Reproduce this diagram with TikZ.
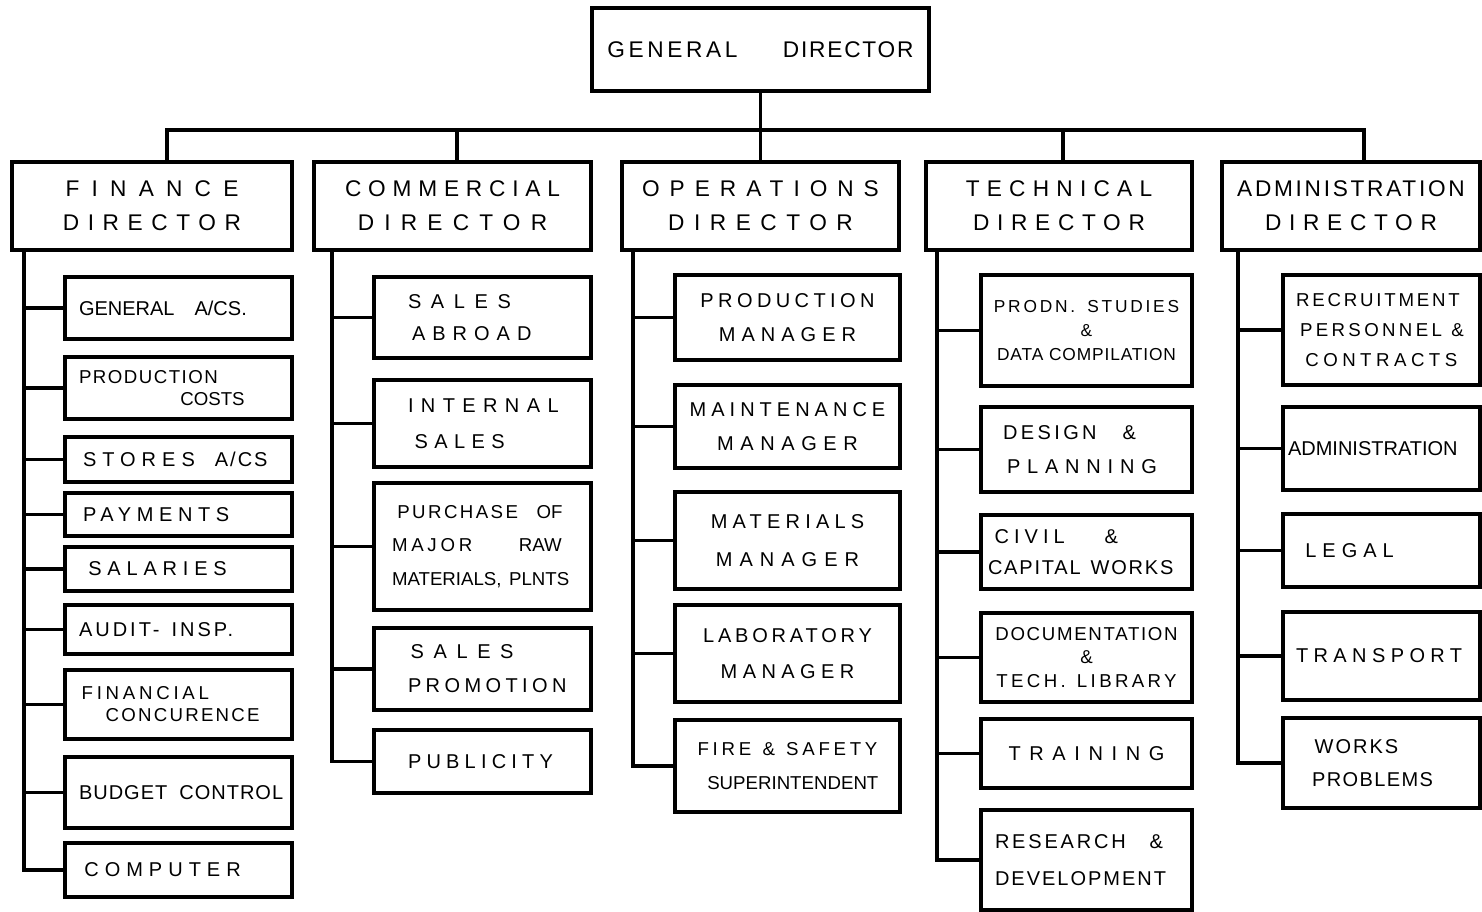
\documentclass[tikz,border=0pt]{standalone}
\usepackage{fontspec}
\newfontfamily\hand{Liberation Sans}
\newcommand{\ls}[2]{{\addfontfeature{LetterSpace=#1}#2}}

\tikzset{every picture/.style={line width=2.4pt}}
\tikzset{
  dirbox/.style={draw, rectangle, inner sep=0pt, align=center, minimum height=66pt, font=\hand\fontsize{17}{25.5}\selectfont},
  subbox/.style={draw, rectangle, inner sep=0pt, align=left, font=\hand\fontsize{15}{25.5}\selectfont},
  fincol/.style={subbox, minimum width=170.25pt, text width=149.25pt},
  comcol/.style={subbox, minimum width=162.75pt, text width=111.75pt},
  opscol/.style={subbox, minimum width=168.75pt, text width=153.75pt, align=center},
  teccol/.style={subbox, minimum width=158.25pt, text width=137.25pt},
  admcol/.style={subbox, minimum width=147.75pt, text width=128.25pt},
}

\begin{document}
\begin{tikzpicture}[x=0.75pt,y=0.75pt,yscale=-1,xscale=1]
	\useasboundingbox (0,0) rectangle (1482,912);
	
	% General director
	\node [dirbox, minimum width=252.75pt, minimum height=62.25pt] (gd) at (760.5,49.5) {\ls{16}{GENERAL}\hspace{2em}\ls{8}{DIRECTOR}};
	
	% Directors
	\node [dirbox, minimum width=210pt] (fin) at (152,206) {\ls{54}{FINANCE}\\\ls{38}{DIRECTOR}};
	\node [dirbox, minimum width=207.75pt] (com) at (452.5,206) {\ls{30}{COMMERCIAL}\\\ls{45}{DIRECTOR}};
	\node [dirbox, minimum width=207.75pt] (ops) at (760.5,206) {\ls{44}{OPERATIONS}\\\ls{42}{DIRECTOR}};
	\node [dirbox, minimum width=199.5pt] (tec) at (1059,206) {\ls{32}{TECHNICAL}\\\ls{34}{DIRECTOR}};
	\node [dirbox, minimum width=193.5pt] (adm) at (1351,206) {\ls{12}{ADMINISTRATION}\\\ls{34}{DIRECTOR}};
	
	% Finance column
	\node [fincol, minimum height=46.5pt] (fin1) at (178.5,308) {GENERAL\quad A/CS.};
	\node [fincol, minimum height=46.5pt, font=\hand\fontsize{14}{16.5}\selectfont] (fin2) at (178.5,388) {\ls{8}{PRODUCTION}\\\hspace*{76pt}COSTS};
	\node [fincol, minimum height=33.75pt] (fin3) at (178.5,459.5) {\hspace*{3pt}\ls{30}{STORES}\quad\ls{10}{A/CS}};
	\node [fincol, minimum height=32.25pt] (fin4) at (178.5,514.5) {\hspace*{3pt}\ls{28}{PAYMENTS}};
	\node [fincol, minimum height=33pt] (fin5) at (178.5,569) {\hspace*{7pt}\ls{29}{SALARIES}};
	\node [fincol, minimum height=36.75pt] (fin6) at (178.5,629.5) {\ls{15}{AUDIT-}\hspace{0.6em}\ls{15}{INSP.}};
	\node [fincol, minimum height=51.75pt, font=\hand\fontsize{14}{16.5}\selectfont] (fin7) at (178.5,704.5) {\hspace*{2pt}\ls{20}{FINANCIAL}\\\hspace*{20pt}\ls{12}{CONCURENCE}};
	\node [fincol, minimum height=53.25pt] (fin8) at (178.5,792.5) {\mbox{\ls{5}{BUDGET}\hspace{0.6em}\ls{5}{CONTROL}}};
	\node [fincol, minimum height=40.5pt] (fin9) at (178.5,870) {\hspace*{4pt}\ls{30}{COMPUTER}};
	
	% Commercial column
	\node [comcol, minimum height=60.75pt, font=\hand\fontsize{15}{24}\selectfont] (com1) at (482.5,317.5) {\ls{48}{SALES}\\\hspace*{3pt}\ls{35}{ABROAD}};
	\node [comcol, minimum height=65.25pt, font=\hand\fontsize{15}{27}\selectfont] (com2) at (482.5,423.5) {\ls{37}{INTERNAL}\\\hspace*{5pt}\ls{32}{SALES}};
	\node [comcol, minimum height=95.25pt, text width=135.75pt, font=\hand\fontsize{14}{25}\selectfont] (com3) at (482.5,546.5) {\hspace*{4pt}\ls{13}{PURCHASE}\quad OF\\\ls{20}{MAJOR}\hspace{2.5em}RAW\\\mbox{MATERIALS,\hspace{0.4em}PLNTS}};
	\node [comcol, minimum height=61.5pt] (com4) at (482.5,669) {\hspace*{2pt}\ls{48}{SALES}\\\ls{22}{PROMOTION}};
	\node [comcol, minimum height=47.25pt] (com5) at (482.5,761.5) {\ls{26}{PUBLICITY}};
	
	% Operations column
	\node [opscol, minimum height=63.75pt] (ops1) at (787.5,317.5) {\ls{22}{PRODUCTION}\\\ls{30}{MANAGER}};
	\node [opscol, minimum height=62.25pt] (ops2) at (787.5,426.5) {\ls{25}{MAINTENANCE}\\\ls{33}{MANAGER}};
	\node [opscol, minimum height=72.75pt, font=\hand\fontsize{15}{28.5}\selectfont] (ops3) at (787.5,540.5) {\ls{26}{MATERIALS}\\\ls{35}{MANAGER}};
	\node [opscol, minimum height=72.75pt, font=\hand\fontsize{15}{27.5}\selectfont] (ops4) at (787.5,653.5) {\ls{19}{LABORATORY}\\\ls{27}{MANAGER}};
	\node [opscol, minimum height=69pt, font=\hand\fontsize{14}{25}\selectfont] (ops5) at (787.5,766) {\mbox{\ls{20}{FIRE}\hspace{0.6em}\&\hspace{0.6em}\ls{20}{SAFETY}}\\\hspace*{8pt}SUPERINTENDENT};
	
	% Technical column
	\node [teccol, minimum height=83.25pt, text width=150pt, align=center, font=\hand\fontsize{13}{18}\selectfont] (tec1) at (1086.5,330.5) {\mbox{\ls{16}{PRODN.}\hspace{0.7em}\ls{16}{STUDIES}}\\\&\\\ls{5}{DATA COMPILATION}};
	\node [teccol, minimum height=63.75pt] (tec2) at (1086.5,449.5) {\hspace*{6pt}\ls{17}{DESIGN}\hspace{1.3em}\&\\\hspace*{9pt}\ls{34}{PLANNING}};
	\node [teccol, minimum height=55.5pt, text width=147.75pt, font=\hand\fontsize{15}{23}\selectfont] (tec3) at (1086.5,552) {\hspace*{5pt}\ls{25}{CIVIL}\hspace{2em}\&\\\mbox{\ls{9}{CAPITAL}\hspace{0.5em}\ls{9}{WORKS}}};
	\node [teccol, minimum height=66.75pt, text width=147.75pt, align=center, font=\hand\fontsize{14}{17.5}\selectfont] (tec4) at (1086.5,657.5) {\ls{9}{DOCUMENTATION}\\\&\\\mbox{\ls{18}{TECH.}\hspace{0.6em}\ls{18}{LIBRARY}}};
	\node [teccol, minimum height=51.75pt, align=center] (tec5) at (1086.5,753.5) {\ls{43}{TRAINING}};
	\node [teccol, minimum height=75pt, font=\hand\fontsize{15}{27.75}\selectfont] (tec6) at (1086.5,860) {\ls{14}{RESEARCH}\hspace{1.2em}\&\\\ls{10}{DEVELOPMENT}};
	
	% Administration column
	\node [admcol, minimum height=82.5pt, font=\hand\fontsize{14}{22.5}\selectfont] (adm1) at (1381.5,330) {\ls{15}{RECRUITMENT}\\\hspace*{3pt}\mbox{\ls{18}{PERSONNEL}\hspace{0.5em}\&}\\\hspace*{7pt}\ls{24}{CONTRACTS}};
	\node [admcol, minimum height=62.25pt, text width=140.25pt] (adm2) at (1381.5,448.5) {ADMINISTRATION};
	\node [admcol, minimum height=54.75pt] (adm3) at (1381.5,550.5) {\hspace*{7pt}\ls{30}{LEGAL}};
	\node [admcol, minimum height=66pt] (adm4) at (1381.5,656) {\ls{27}{TRANSPORT}};
	\node [admcol, minimum height=67.5pt, font=\hand\fontsize{15}{25}\selectfont] (adm5) at (1381.5,763) {\hspace*{14pt}\ls{10}{WORKS}\\\hspace*{12pt}\ls{7}{PROBLEMS}};
	
	% Top connectors
	\coordinate (bus) at (760.5,130);
	\draw (gd) -- (ops);
	\draw ([xshift=11.25pt]fin.north) |- (bus) -| ([xshift=9.75pt]adm.north);
	\draw ([xshift=3.4pt]com.north) -- ([xshift=3.4pt]com.north |- bus);
	\draw ([xshift=3pt]tec.north) -- ([xshift=3pt]tec.north |- bus);
	
	% Spines
	\coordinate (finS) at (24,250);
	\coordinate (comS) at (332,250);
	\coordinate (opsS) at (633,250);
	\coordinate (tecS) at (937,250);
	\coordinate (admS) at (1238,250);
	\foreach \i in {1,...,9} \draw (finS) |- (fin\i.west);
	\foreach \i in {1,...,5} \draw (comS) |- (com\i.west);
	\foreach \i in {1,...,5} \draw (opsS) |- (ops\i.west);
	\foreach \i in {1,...,6} \draw (tecS) |- (tec\i.west);
	\foreach \i in {1,...,5} \draw (admS) |- (adm\i.west);
	
\end{tikzpicture}
\end{document}
